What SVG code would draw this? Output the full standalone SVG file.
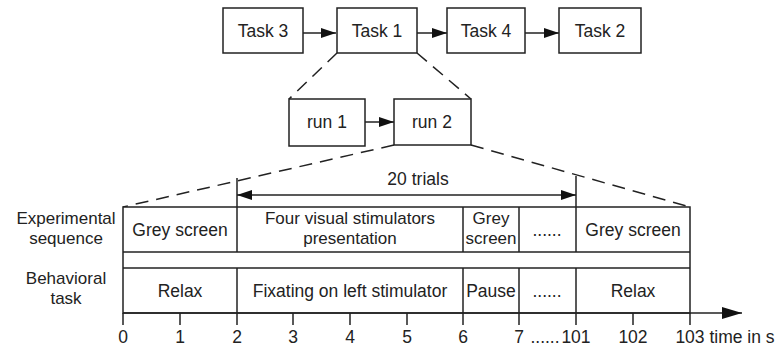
<svg xmlns="http://www.w3.org/2000/svg" width="781" height="350" viewBox="0 0 781 350">
<defs>
<style>
text{font-family:"Liberation Sans",Arial,sans-serif;font-size:17.5px;fill:#222;text-anchor:middle}
.two{font-size:17px}
.box{fill:#fff;stroke:#222;stroke-width:1.5}
.ln{stroke:#222;stroke-width:1.5;fill:none}
.dash{stroke:#222;stroke-width:1.5;fill:none;stroke-dasharray:13 8}
</style>
<marker id="ah" viewBox="0 0 15 10" refX="15" refY="5" markerWidth="15" markerHeight="10" markerUnits="userSpaceOnUse" orient="auto-start-reverse">
<path d="M0,0 L15,5 L0,10 Z" fill="#111"/>
</marker>
<marker id="ahBig" viewBox="0 0 20 12" refX="20" refY="6" markerWidth="20" markerHeight="12" markerUnits="userSpaceOnUse" orient="auto">
<path d="M0,0 L20,6 L0,12 Z" fill="#111"/>
</marker>
</defs>
<rect width="781" height="350" fill="#fff"/>
<g id="connectors">
<line class="ln" x1="303" y1="33" x2="336" y2="33" marker-end="url(#ah)"/>
<line class="ln" x1="417" y1="33" x2="447" y2="33" marker-end="url(#ah)"/>
<line class="ln" x1="525" y1="33" x2="559" y2="33" marker-end="url(#ah)"/>
<line class="ln" x1="365" y1="122" x2="394" y2="122" marker-end="url(#ah)"/>
<line class="dash" x1="337" y1="53" x2="289" y2="99"/>
<line class="dash" x1="417" y1="53" x2="471" y2="99"/>
<line class="dash" x1="394" y1="145" x2="123" y2="207"/>
<line class="dash" x1="471" y1="145" x2="690" y2="207"/>
<line class="ln" x1="237" y1="178" x2="237" y2="207"/>
<line class="ln" x1="576" y1="176" x2="576" y2="207"/>
<line class="ln" x1="237" y1="195" x2="576" y2="195" marker-start="url(#ah)" marker-end="url(#ah)"/>
</g>
<g id="task3"><rect class="box" x="223" y="8" width="80" height="45"/><text x="263" y="37">Task 3</text></g>
<g id="task1"><rect class="box" x="337" y="8" width="80" height="45"/><text x="377" y="37">Task 1</text></g>
<g id="task4"><rect class="box" x="447" y="8" width="78" height="45"/><text x="486" y="37">Task 4</text></g>
<g id="task2"><rect class="box" x="559" y="8" width="82" height="45"/><text x="600" y="37">Task 2</text></g>
<g id="run1"><rect class="box" x="289" y="99" width="76" height="47"/><text x="327" y="128">run 1</text></g>
<g id="run2"><rect class="box" x="394" y="99" width="77" height="46"/><text x="432" y="128">run 2</text></g>
<text id="trials" x="418" y="185">20 trials</text>
<g id="labels">
<text class="two" x="66" y="224">Experimental</text>
<text class="two" x="66" y="244">sequence</text>
<text class="two" x="66" y="284">Behavioral</text>
<text class="two" x="66" y="304">task</text>
</g>
<g id="table">
<rect class="box" x="123" y="207" width="567" height="106"/>
<line class="ln" x1="123" y1="252" x2="690" y2="252"/>
<line class="ln" x1="123" y1="268" x2="690" y2="268"/>
<g class="ln">
<line x1="237" y1="207" x2="237" y2="252"/><line x1="463" y1="207" x2="463" y2="252"/><line x1="519" y1="207" x2="519" y2="252"/><line x1="576" y1="207" x2="576" y2="252"/>
<line x1="237" y1="268" x2="237" y2="313"/><line x1="463" y1="268" x2="463" y2="313"/><line x1="519" y1="268" x2="519" y2="313"/><line x1="576" y1="268" x2="576" y2="313"/>
</g>
<text x="180" y="236">Grey screen</text>
<text class="two" x="350" y="224">Four visual stimulators</text>
<text class="two" x="350" y="244">presentation</text>
<text class="two" x="491" y="224">Grey</text>
<text class="two" x="491" y="244">screen</text>
<text x="547" y="236">......</text>
<text x="633" y="236">Grey screen</text>
<text x="180" y="297">Relax</text>
<text x="350" y="297">Fixating on left stimulator</text>
<text x="491" y="297">Pause</text>
<text x="547" y="297">......</text>
<text x="633" y="297">Relax</text>
</g>
<g id="axis">
<line class="ln" x1="123" y1="313" x2="742" y2="313" marker-end="url(#ahBig)"/>
<g class="ln">
<line x1="123" y1="313" x2="123" y2="325"/><line x1="180" y1="313" x2="180" y2="325"/><line x1="237" y1="313" x2="237" y2="325"/><line x1="293" y1="313" x2="293" y2="325"/><line x1="350" y1="313" x2="350" y2="325"/><line x1="407" y1="313" x2="407" y2="325"/><line x1="463" y1="313" x2="463" y2="325"/><line x1="519" y1="313" x2="519" y2="325"/><line x1="576" y1="313" x2="576" y2="325"/><line x1="633" y1="313" x2="633" y2="325"/><line x1="690" y1="313" x2="690" y2="325"/>
</g>
<text x="123" y="343">0</text><text x="180" y="343">1</text><text x="237" y="343">2</text><text x="293" y="343">3</text><text x="350" y="343">4</text><text x="407" y="343">5</text><text x="463" y="343">6</text><text x="519" y="343">7</text>
<text x="545" y="343">......</text>
<text x="576" y="343">101</text><text x="633" y="343">102</text><text x="690" y="343">103</text>
<text x="742" y="343">time in s</text>
</g>
</svg>
